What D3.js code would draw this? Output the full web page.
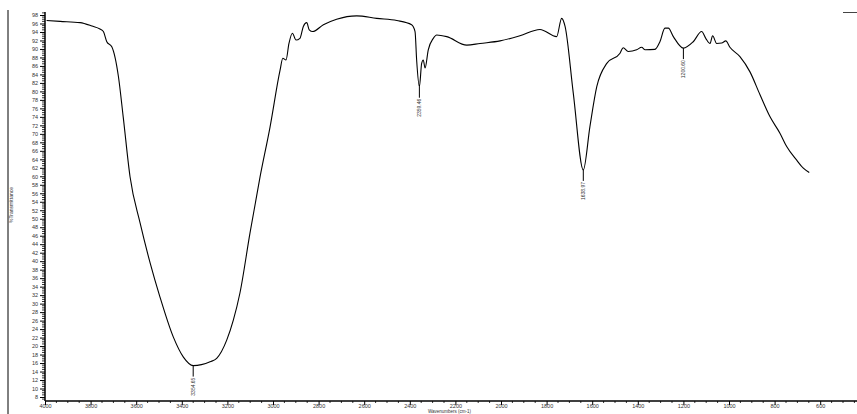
<!DOCTYPE html>
<html><head><meta charset="utf-8">
<script src="https://cdn.jsdelivr.net/npm/d3@7"></script>
<style>html,body{margin:0;padding:0;background:#fff;}svg{display:block;}</style>
</head><body>
<script>
const wavenumber = [3993,3934,3846,3794,3759,3744,3729,3707,3678,3657,3627,3583,3539,3496,3437,3393,3350,3276,3247,3203,3174,3145,3101,3057,3013,2969,2957,2943,2930,2915,2899,2882,2867,2852,2841,2826,2779,2721,2633,2545,2457,2392,2377,2370,2358,2348,2341,2333,2319,2297,2282,2238,2150,2092,2004,1917,1829,1756,1734,1719,1683,1639,1610,1580,1536,1478,1464,1442,1405,1383,1368,1325,1303,1281,1266,1244,1200,1157,1120,1102,1083,1072,1054,1032,1014,996,952,908,864,820,776,747,703,674,648];
const transmittance = [96.7,96.5,96.2,95.4,94.7,94.1,91.7,90.5,83.5,74.0,59.9,49.0,39.6,31.6,22.1,17.4,15.4,16.3,17.1,21.4,26.1,32.5,46.6,59.8,71.6,85.0,87.8,87.4,91.3,93.7,92.1,92.5,95.3,96.2,94.5,94.1,95.7,97.0,97.8,97.2,96.7,95.7,94.1,87.4,81.1,86.6,87.4,85.5,89.8,92.5,93.3,92.9,90.9,91.3,91.9,93.1,94.6,92.9,97.2,95.3,79.6,61.5,71.7,81.1,86.6,89.0,90.3,89.4,89.8,90.4,89.8,89.9,91.7,94.9,94.9,92.9,90.2,91.7,94.1,92.5,91.3,93.1,91.3,91.4,91.9,90.4,88.2,84.6,79.2,74.0,70.1,67.0,63.8,61.9,60.9];
const peakWavenumbers = [3350,2358,1639,1200];
const peakValues = [15.4,81.1,61.5,90.2];
const peakLabels = ["3354.65","2359.46","1638.97","1200.60"];
const xTickValues = [4000,3800,3600,3400,3200,3000,2800,2600,2400,2200,2000,1800,1600,1400,1200,1000,800,600];
const yTickValues = [8,10,12,14,16,18,20,22,24,26,28,30,32,34,36,38,40,42,44,46,48,50,52,54,56,58,60,62,64,66,68,70,72,74,76,78,80,82,84,86,88,90,92,94,96,98];
const xTitle = "Wavenumbers (cm-1)";
const yTitle = "%Transmittance";

const W = 857, H = 414;
const svg = d3.select("body").append("svg").attr("width", W).attr("height", H)
  .style("font-family", "'Liberation Sans', Arial, sans-serif");

const x = d3.scaleLinear().domain([4000, 400]).range([45, 45 + 3600 * 0.228]);
const y = d3.scaleLinear().domain([8, 98]).range([397, 15]);
const yTop = 12, yBot = 401;

// left frame line
svg.append("line").attr("x1", 8).attr("x2", 8).attr("y1", 10).attr("y2", H)
  .attr("stroke", "#000").attr("stroke-width", 1);
// top-right small mark
svg.append("line").attr("x1", 843).attr("x2", 857).attr("y1", 12.5).attr("y2", 12.5)
  .attr("stroke", "#444").attr("stroke-width", 1);

// Y axis
const yAxis = d3.axisLeft(y).tickValues(yTickValues).tickSize(5).tickFormat(d3.format("d"));
const ga = svg.append("g").attr("transform", "translate(45,0)").call(yAxis);
ga.select(".domain").remove();
ga.selectAll("text").attr("font-size", 5.5).attr("fill", "#333").attr("x", -7);
ga.selectAll("line").attr("stroke", "#000");
const yMinor = d3.range(7.5, 98.6, 0.5).filter(v => v % 2 !== 0);
svg.append("g").selectAll("line").data(yMinor).join("line")
  .attr("x1", 42).attr("x2", 45).attr("y1", d => y(d)).attr("y2", d => y(d))
  .attr("stroke", "#000").attr("stroke-width", 0.8);
svg.append("line").attr("x1", 45).attr("x2", 45).attr("y1", yTop).attr("y2", yBot)
  .attr("stroke", "#000").attr("stroke-width", 1.5);

// X axis
const xAxis = d3.axisBottom(x).tickValues(xTickValues).tickSize(4).tickFormat(d3.format("d"));
const gx = svg.append("g").attr("transform", `translate(0,${yBot})`).call(xAxis);
gx.select(".domain").remove();
gx.selectAll("text").attr("font-size", 5.5).attr("fill", "#333").attr("y", 3.5);
gx.selectAll("line").attr("stroke", "#000");
const xMinor = d3.range(4000, 400, -50).filter(v => v % 200 !== 0);
svg.append("g").selectAll("line").data(xMinor).join("line")
  .attr("x1", d => x(d)).attr("x2", d => x(d)).attr("y1", yBot).attr("y2", yBot + 2)
  .attr("stroke", "#000").attr("stroke-width", 0.8);
svg.append("line").attr("x1", 45).attr("x2", W).attr("y1", yBot).attr("y2", yBot)
  .attr("stroke", "#000").attr("stroke-width", 1.5);

// titles
svg.append("text").attr("transform", "translate(13,205) rotate(-90)")
  .attr("text-anchor", "middle").attr("font-size", 5).attr("fill", "#333").text(yTitle);
svg.append("text").attr("x", 428).attr("y", 413)
  .attr("text-anchor", "start").attr("font-size", 4.5).attr("fill", "#333").text(xTitle);

// spectrum
const data = wavenumber.map((w, i) => ({w, t: transmittance[i]}));
const line = d3.line().x(d => x(d.w)).y(d => y(d.t)).curve(d3.curveMonotoneX);
svg.append("path").datum(data).attr("d", line)
  .attr("fill", "none").attr("stroke", "#000").attr("stroke-width", 1.1).attr("stroke-linejoin", "round");

// peak labels
const peaks = peakWavenumbers.map((w, i) => ({w, t: peakValues[i], label: peakLabels[i]}));
const pg = svg.append("g").selectAll("g").data(peaks).join("g");
pg.append("line").attr("x1", d => x(d.w)).attr("x2", d => x(d.w))
  .attr("y1", d => y(d.t)).attr("y2", d => y(d.t) + 11)
  .attr("stroke", "#000").attr("stroke-width", 1);
pg.append("text")
  .attr("transform", d => `translate(${x(d.w) + 1.8},${y(d.t) + 12}) rotate(-90)`)
  .attr("text-anchor", "end").attr("font-size", 5).attr("fill", "#333").text(d => d.label);
</script>
</body></html>
